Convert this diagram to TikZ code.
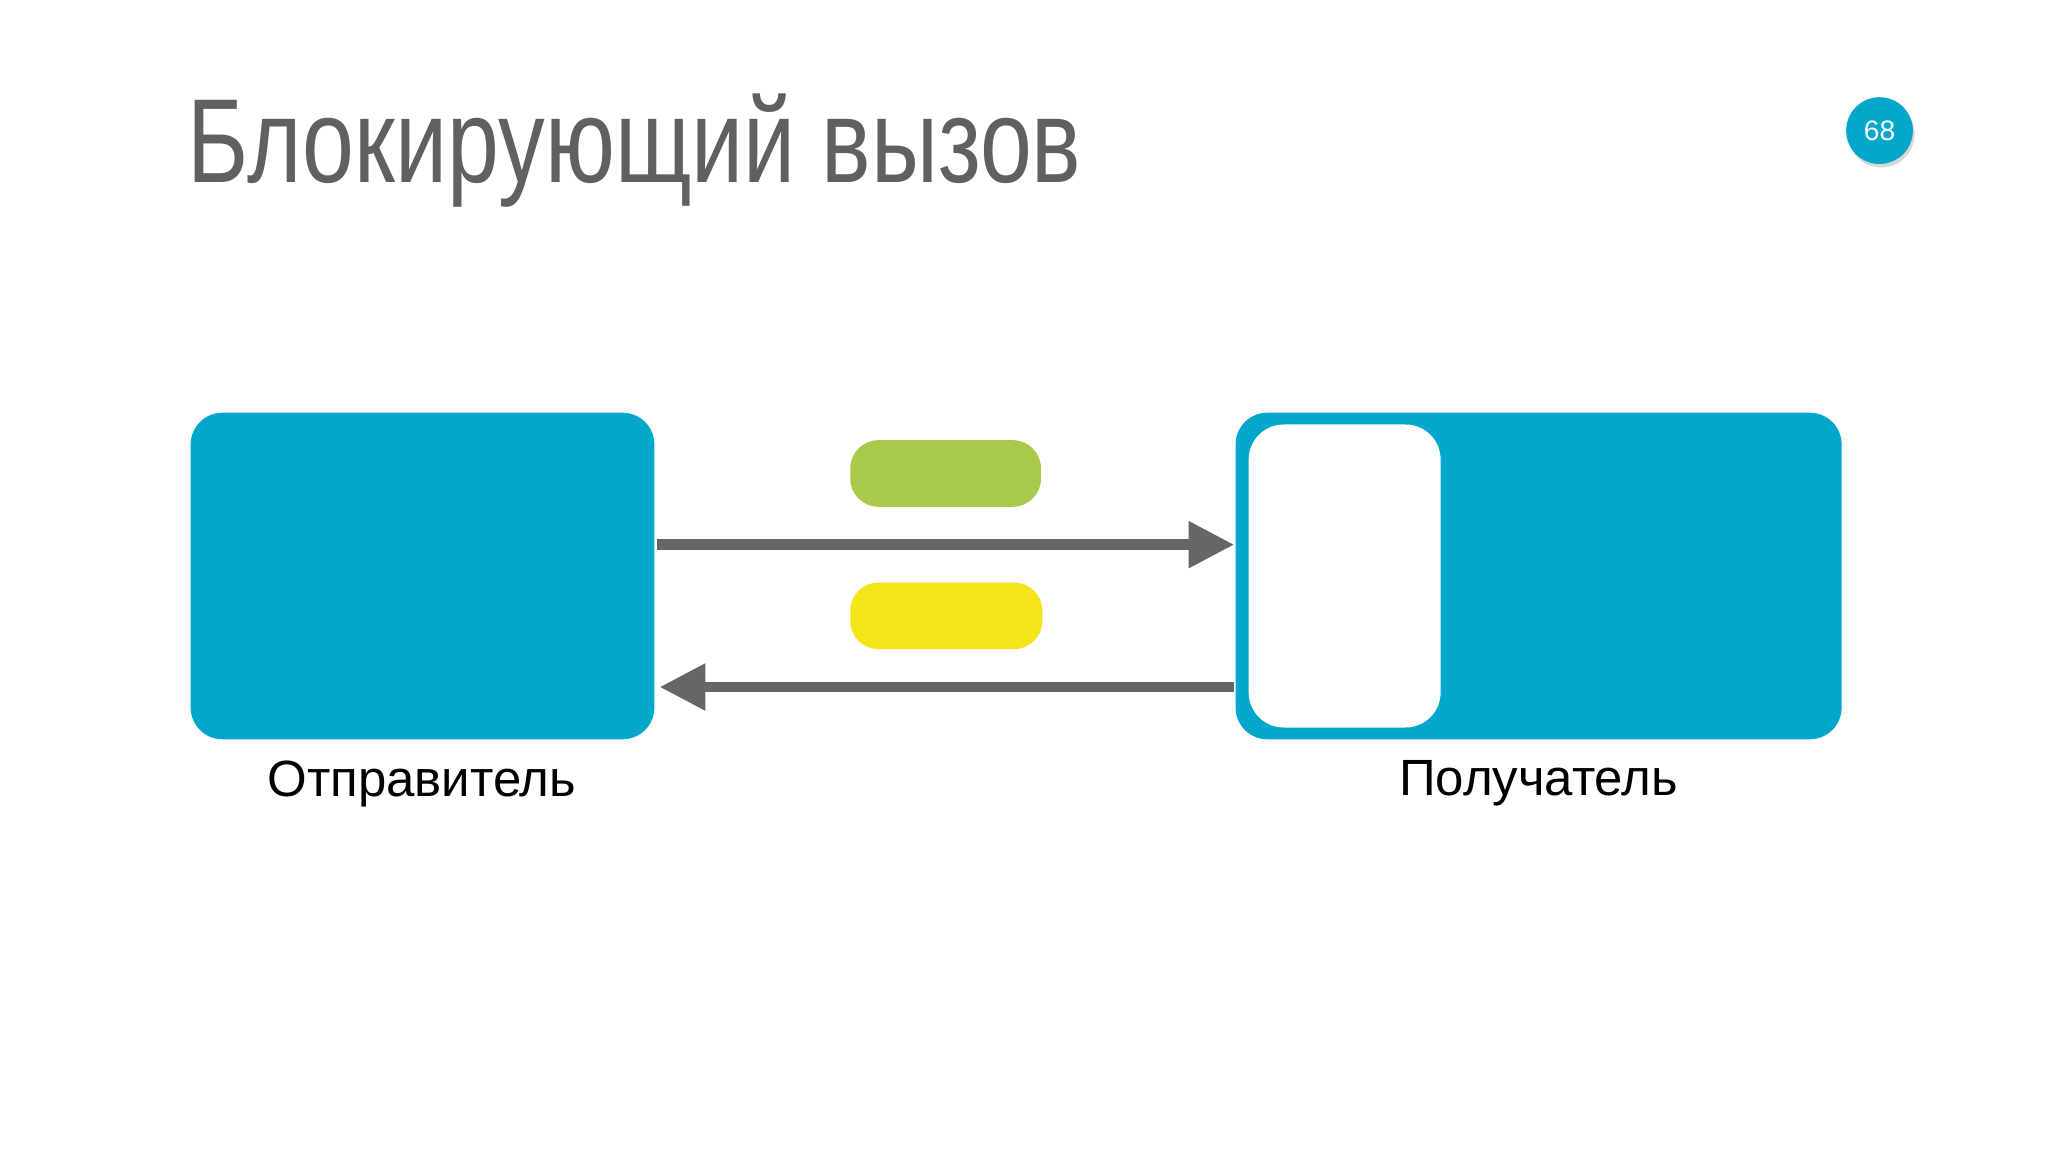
\documentclass[tikz,border=0pt]{standalone}
\usepackage{fontspec}
\setmainfont{Liberation Sans}
\newfontfamily\titlefont[FakeStretch=0.78]{Liberation Sans}
\usetikzlibrary{arrows.meta,shadows}
\definecolor{blu}{HTML}{02A8CB}
\definecolor{grn}{HTML}{A9C94A}
\definecolor{yel}{HTML}{F4E51A}
\definecolor{gry}{HTML}{666666}
\definecolor{ttl}{HTML}{606060}
\begin{document}
\begin{tikzpicture}[x=0.01306cm,y=-0.01306cm,
  box/.style={fill=blu,rounded corners=9pt,draw=none},
  msg/.style={rounded corners=8pt,draw=none},
  conn/.style={draw=gry,line width=3pt,-{Triangle[length=13pt,width=12.6pt]}},
  lbl/.style={font=\fontsize{14.5}{16}\selectfont,text=black}]
\useasboundingbox (0,0) rectangle (1568,882);
\fill[white] (0,0) rectangle (1568,882);
\node[anchor=base west,inner sep=0,text=ttl,font=\titlefont\fontsize{34}{36}\selectfont] (title) at (143,140) {Блокирующий вызов};
\node[circle,fill=blu,minimum size=52\pgflinewidth,inner sep=0,minimum size=19pt,drop shadow={opacity=0.3,shadow xshift=0.5pt,shadow yshift=-1pt},text=white,font=\fontsize{8}{9}\selectfont] (badge) at (1439,100) {68};
\path[box] (146,316) rectangle (501,566);
\coordinate (L) at (501,441);
\path[box] (946,316) rectangle (1410,566);
\path[fill=white,rounded corners=10pt] (956,325) rectangle (1103,557);
\path[msg,fill=grn] (651,337) rectangle (797,388);
\path[msg,fill=yel] (651,446) rectangle (798,497);
\coordinate (a1) at (503,417); \coordinate (a2) at (945,417);
\coordinate (b1) at (945,526); \coordinate (b2) at (505,526);
\draw[conn] (a1) -- (a2);
\draw[conn] (b1) -- (b2);
\node[lbl] (snd) at (323,600) {Отправитель};
\node[lbl] (rcv) at (1178,600) {Получатель};
\end{tikzpicture}
\end{document}
